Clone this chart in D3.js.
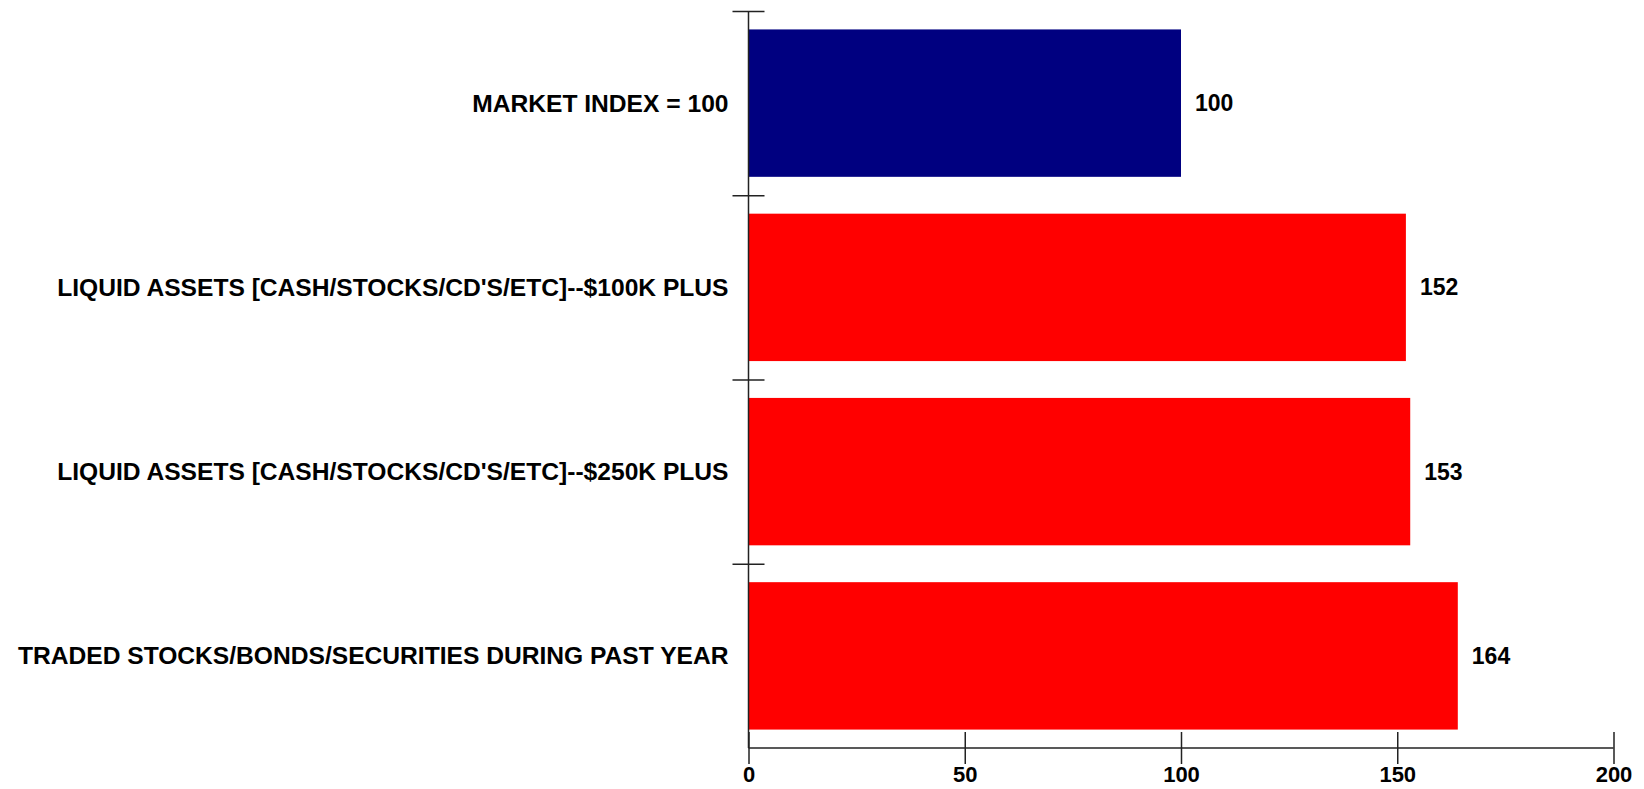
<!DOCTYPE html>
<html>
<head>
<meta charset="utf-8">
<script src="https://cdn.jsdelivr.net/npm/d3@7"></script>
<style>
  html, body { margin: 0; padding: 0; background: #fff; }
  svg { display: block; }
  text { font-family: "Liberation Sans", Arial, sans-serif; font-weight: bold; fill: #000; }
</style>
</head>
<body>
<script>
// Index values by audience segment
const categories = [
  "MARKET INDEX = 100",
  "LIQUID ASSETS [CASH/STOCKS/CD'S/ETC]--$100K PLUS",
  "LIQUID ASSETS [CASH/STOCKS/CD'S/ETC]--$250K PLUS",
  "TRADED STOCKS/BONDS/SECURITIES DURING PAST YEAR"
];
const values = [100, 152, 153, 164];
const barColors = ["#000080", "#ff0000", "#ff0000", "#ff0000"];
const xTicks = [0, 50, 100, 150, 200];

const width = 1644, height = 789;
const margin = { top: 11, right: 30, bottom: 41, left: 748.5 };

const svg = d3.select("body").append("svg")
  .attr("width", width)
  .attr("height", height);

const x = d3.scaleLinear()
  .domain([0, 200])
  .range([margin.left, 1613.5]);

const y = d3.scaleBand()
  .domain(categories)
  .range([margin.top, height - margin.bottom])
  .paddingInner(0.2)
  .paddingOuter(0.1);

// Band boundaries for the category axis ticks
const yEdge = d3.scaleLinear()
  .domain([0, categories.length])
  .range([margin.top, height - margin.bottom]);

// Bars
svg.append("g")
  .selectAll("rect")
  .data(values)
  .join("rect")
  .attr("x", x(0))
  .attr("y", (d, i) => y(categories[i]))
  .attr("width", d => x(d) - x(0))
  .attr("height", y.bandwidth())
  .attr("fill", (d, i) => barColors[i]);

// Value labels
svg.append("g")
  .selectAll("text")
  .data(values)
  .join("text")
  .attr("x", d => x(d) + 14)
  .attr("y", (d, i) => y(categories[i]) + y.bandwidth() / 2)
  .attr("dy", "0.35em")
  .attr("font-size", 23)
  .text(d => d);

// Category labels
svg.append("g")
  .selectAll("text")
  .data(categories)
  .join("text")
  .attr("x", margin.left - 20)
  .attr("y", d => y(d) + y.bandwidth() / 2)
  .attr("dy", "0.35em")
  .attr("text-anchor", "end")
  .attr("font-size", 24.6)
  .text(d => d);

// Category axis: line with crossing ticks at band edges
const yAxisG = svg.append("g")
  .attr("transform", `translate(${margin.left},0)`)
  .call(d3.axisLeft(yEdge).tickValues(d3.range(categories.length)).tickSize(16).tickFormat(""));
yAxisG.select(".domain").attr("d", `M0,${margin.top}V${height - margin.bottom}`);
yAxisG.selectAll(".tick line").attr("x1", -16).attr("x2", 16);
yAxisG.selectAll("path, line").attr("stroke", "#222").attr("stroke-width", 1.5);

// Value axis
const xAxisG = svg.append("g")
  .attr("transform", `translate(0,${height - margin.bottom})`)
  .call(d3.axisBottom(x).tickValues(xTicks).tickSize(16).tickPadding(2));
xAxisG.select(".domain").attr("d", `M${x(0)},0H${x(200)}`);
xAxisG.selectAll(".tick line").attr("y1", -16).attr("y2", 16);
xAxisG.selectAll("path, line").attr("stroke", "#222").attr("stroke-width", 1.5);
xAxisG.selectAll(".tick text")
  .attr("font-size", 22)
  .attr("font-family", "'Liberation Sans', Arial, sans-serif")
  .attr("font-weight", "bold")
  .attr("fill", "#000");
</script>
</body>
</html>
